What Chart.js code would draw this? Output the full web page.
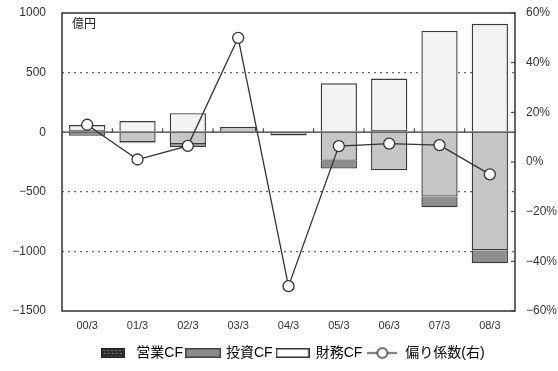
<!DOCTYPE html>
<html lang="ja">
<head>
<meta charset="utf-8">
<script src="https://cdn.jsdelivr.net/npm/chart.js@4/dist/chart.umd.min.js"></script>
<style>
  html, body { margin: 0; padding: 0; background: #fff; }
  #wrap { width: 558px; height: 371px; position: relative; }
</style>
</head>
<body>
<div id="wrap"><canvas id="cfChart"></canvas></div>
<script>
// 決算期
const categories = ['00/3', '01/3', '02/3', '03/3', '04/3', '05/3', '06/3', '07/3', '08/3'];
// キャッシュフロー（億円）
const eigyoCF = [20, -85, -100, 45, -25, -240, -320, -540, -990];
const toshiCF = [-30, -8, -25, 0, -5, -65, 20, -90, -110];
const zaimuCF = [40, 93, 160, 0, 0, 410, 430, 850, 910];
// 偏り係数（%、右軸）
const biasCoef = [15, 1, 6.5, 50, -50, 6.4, 7.4, 6.8, -5];

const FONT = '"Liberation Sans", "Noto Sans CJK JP", sans-serif';
const minus = v => String(v).replace('-', '\u2212');

// legend swatches drawn on small canvases
function swatch(w, h, fill, stroke, dots) {
  const c = document.createElement('canvas');
  c.width = w; c.height = h;
  const g = c.getContext('2d');
  g.fillStyle = fill;
  g.fillRect(0, 0, w, h);
  if (dots) {
    g.fillStyle = '#bbb';
    for (let x = 2; x < w - 1; x += 4) {
      for (let y = 2; y < h - 1; y += 3) g.fillRect(x + (y % 2), y, 1, 1);
    }
  }
  g.strokeStyle = stroke;
  g.lineWidth = 1.5;
  g.strokeRect(0.75, 0.75, w - 1.5, h - 1.5);
  return c;
}

function lineSwatch() {
  const c = document.createElement('canvas');
  c.width = 30; c.height = 13;
  const g = c.getContext('2d');
  g.strokeStyle = '#333';
  g.lineWidth = 1.4;
  g.beginPath(); g.moveTo(0, 6.5); g.lineTo(30, 6.5); g.stroke();
  g.fillStyle = '#fff';
  g.beginPath(); g.arc(15, 6.5, 5, 0, Math.PI * 2); g.fill(); g.stroke();
  return c;
}

const legendIcons = [
  swatch(24, 10, '#2e2e2e', '#222', true),
  swatch(36, 10, '#8a8a8a', '#444'),
  swatch(34, 10, '#ffffff', '#333'),
  lineSwatch()
];

// nudge the legend row a little to the right
const legendShift = {
  id: 'legendShift',
  afterLayout(chart) {
    chart.legend.left += 12;
    chart.legend.right += 12;
  }
};

// frame, zero line, small tick marks and unit label
const framePlugin = {
  id: 'frame',
  afterDatasetsDraw(chart) {
    const { ctx, chartArea: a, scales } = chart;
    const y0 = scales.y.getPixelForValue(0);
    ctx.save();
    ctx.strokeStyle = '#333';
    ctx.lineWidth = 1.3;
    ctx.beginPath();
    ctx.moveTo(a.left, y0); ctx.lineTo(a.right, y0);
    ctx.stroke();
    // category boundary marks on the zero line
    ctx.lineWidth = 1;
    for (let i = 0; i < categories.length - 1; i++) {
      const x = (scales.x.getPixelForValue(i) + scales.x.getPixelForValue(i + 1)) / 2;
      ctx.beginPath(); ctx.moveTo(x, y0); ctx.lineTo(x, y0 - 4); ctx.stroke();
    }
    // right axis marks inside the frame
    scales.y1.ticks.forEach(t => {
      const y = scales.y1.getPixelForValue(t.value);
      ctx.beginPath(); ctx.moveTo(a.right - 4, y); ctx.lineTo(a.right, y); ctx.stroke();
    });
    ctx.lineWidth = 1.5;
    ctx.strokeRect(a.left, a.top, a.right - a.left, a.bottom - a.top);
    ctx.fillStyle = '#222';
    ctx.font = '12px ' + FONT;
    ctx.textBaseline = 'middle';
    ctx.fillText('億円', a.left + 10, a.top + 12);
    ctx.restore();
  }
};

const ctx = document.getElementById('cfChart').getContext('2d');
new Chart(ctx, {
  type: 'bar',
  data: {
    labels: categories,
    datasets: [
      { label: '営業CF', data: eigyoCF, backgroundColor: '#c6c6c6', borderColor: '#3a3a3a', borderWidth: 1.4, order: 1, barPercentage: 0.8, categoryPercentage: 0.9 },
      { label: '投資CF', data: toshiCF, backgroundColor: '#8e8e8e', borderColor: '#3a3a3a', borderWidth: 1.4, order: 1, barPercentage: 0.8, categoryPercentage: 0.9 },
      { label: '財務CF', data: zaimuCF, backgroundColor: '#f3f3f3', borderColor: '#3a3a3a', borderWidth: 1.4, order: 1, barPercentage: 0.8, categoryPercentage: 0.9 },
      { type: 'line', label: '偏り係数(右)', data: biasCoef, yAxisID: 'y1', borderColor: '#333', borderWidth: 1.3,
        pointRadius: 5.5, pointBackgroundColor: '#fff', pointBorderColor: '#333', pointBorderWidth: 1.3, tension: 0, order: 0 }
    ]
  },
  options: {
    responsive: true,
    maintainAspectRatio: false,
    animation: false,
    layout: { padding: { top: 13, bottom: 1, left: 0, right: 0 } },
    plugins: {
      tooltip: { enabled: false },
      legend: {
        position: 'bottom',
        labels: {
          usePointStyle: true,
          pointStyleWidth: 32,
          boxHeight: 10,
          padding: 4,
          color: '#222',
          font: { family: FONT, size: 14 },
          generateLabels(chart) {
            return chart.data.datasets.map((ds, i) => ({
              text: ds.label,
              pointStyle: legendIcons[i],
              fillStyle: '#fff',
              strokeStyle: '#333',
              lineWidth: 0,
              hidden: false,
              datasetIndex: i
            }));
          }
        }
      }
    },
    scales: {
      x: {
        stacked: true,
        afterFit(scale) { scale.height = 31; },
        grid: { display: false, drawTicks: false },
        border: { display: false },
        ticks: { color: '#333', font: { family: FONT, size: 11 }, padding: 8, maxRotation: 0 }
      },
      y: {
        stacked: true,
        min: -1500,
        max: 1000,
        afterFit(scale) { scale.width = 62; },
        border: { display: false, dash: [2, 4] },
        grid: {
          drawTicks: true,
          tickLength: 14,
          tickColor: 'rgba(0,0,0,0)',
          color: c => (c.tick && (c.tick.value === 0 || c.tick.value === 1000 || c.tick.value === -1500)) ? 'rgba(0,0,0,0)' : '#666',
          lineWidth: 1.2
        },
        ticks: { stepSize: 500, padding: 2, color: '#333', font: { family: FONT, size: 12 }, callback: v => minus(v) }
      },
      y1: {
        position: 'right',
        min: -60,
        max: 60,
        afterFit(scale) { scale.width = 43; },
        grid: { display: true, drawOnChartArea: false, drawTicks: true, tickLength: 9, tickColor: 'rgba(0,0,0,0)' },
        border: { display: false },
        ticks: { stepSize: 20, padding: 2, color: '#333', font: { family: FONT, size: 12 }, callback: v => minus(v) + '%' }
      }
    }
  },
  plugins: [framePlugin, legendShift]
});
</script>
</body>
</html>
